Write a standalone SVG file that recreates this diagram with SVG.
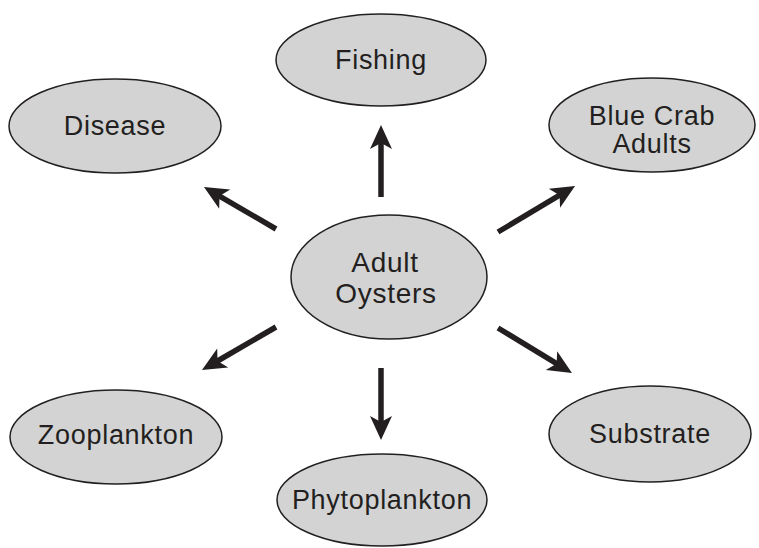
<svg xmlns="http://www.w3.org/2000/svg" width="759" height="548" viewBox="0 0 759 548">
<style>
.node ellipse{fill:#d3d3d4;stroke:#231f20;stroke-width:1.5}
.node text{font-family:"Liberation Sans",Arial,sans-serif;font-size:27px;letter-spacing:0.7px;fill:#231f20;text-anchor:middle}
#adultoysters text{font-size:28px}
.conn line{stroke:#231f20;stroke-width:5.5;fill:none;marker-end:url(#ah)}
</style>
<defs>
<marker id="ah" markerUnits="userSpaceOnUse" viewBox="-10 -12 28 24" refX="0" refY="0" markerWidth="28" markerHeight="24" orient="auto">
<path d="M16,0 L-8,-11 L-2,0 L-8,11 Z" fill="#231f20"/>
</marker>
</defs>
<rect width="759" height="548" fill="#fff"/>
<g class="conn">
<line x1="381" y1="197" x2="381" y2="141"/>
<line x1="276" y1="229" x2="217.8" y2="195.1"/>
<line x1="498" y1="232" x2="561.3" y2="194.2"/>
<line x1="276" y1="327" x2="215.8" y2="362"/>
<line x1="381" y1="368" x2="381" y2="424"/>
<line x1="498" y1="328" x2="558.3" y2="364.7"/>
</g>
<g id="fishing" class="node"><ellipse cx="381" cy="60" rx="105" ry="46"/><text x="381" y="69">Fishing</text></g>
<g id="disease" class="node"><ellipse cx="115" cy="126" rx="106" ry="47"/><text x="115" y="135">Disease</text></g>
<g id="bluecrab" class="node"><ellipse cx="652" cy="125" rx="103" ry="47"/><text x="652" y="125">Blue Crab</text><text x="652" y="153">Adults</text></g>
<g id="adultoysters" class="node"><ellipse cx="389" cy="277" rx="98" ry="62"/><text x="385" y="272">Adult</text><text x="386" y="303">Oysters</text></g>
<g id="zooplankton" class="node"><ellipse cx="116" cy="437" rx="106" ry="47"/><text x="116" y="444">Zooplankton</text></g>
<g id="substrate" class="node"><ellipse cx="650" cy="434" rx="101" ry="48"/><text x="650" y="443">Substrate</text></g>
<g id="phytoplankton" class="node"><ellipse cx="382" cy="500" rx="105" ry="46"/><text x="382" y="509">Phytoplankton</text></g>
</svg>
